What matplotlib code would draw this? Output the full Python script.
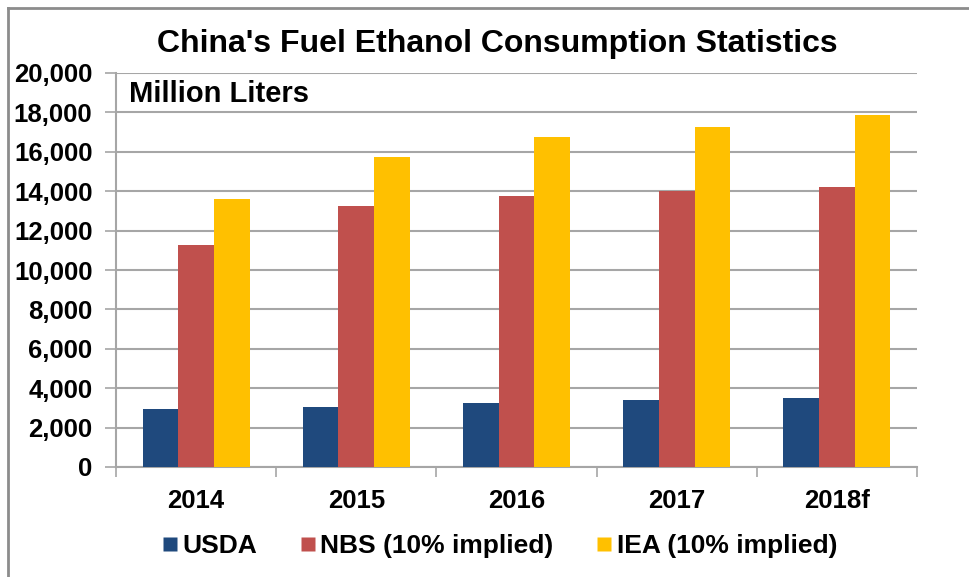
import matplotlib
matplotlib.use("Agg")
import matplotlib.pyplot as plt
from matplotlib.lines import Line2D
from matplotlib.ticker import FuncFormatter, FixedLocator
import numpy as np

categories = ["2014", "2015", "2016", "2017", "2018f"]
usda = [2930, 3060, 3260, 3380, 3520]
nbs = [11250, 13250, 13780, 14000, 14220]
iea = [13580, 15720, 16770, 17280, 17870]
series_names = ["USDA", "NBS (10% implied)", "IEA (10% implied)"]
colors = ["#1F497D", "#C0504D", "#FFC000"]

plt.rcParams['font.family'] = ['Liberation Sans', 'DejaVu Sans']

W, H = 969, 577
fig = plt.figure(figsize=(W / 100, H / 100), dpi=100)
ax = fig.add_axes([116 / W, 1 - 467 / H, (917 - 116) / W, (467 - 73) / H])

x = np.arange(len(categories))
bw = 0.223
for i, (vals, c) in enumerate(zip([usda, nbs, iea], colors)):
    ax.bar(x + (i - 1) * bw, vals, width=bw, color=c, edgecolor='none', zorder=3)

ax.set_xlim(-0.5, len(categories) - 0.5)
ax.set_ylim(0, 20000)
ax.set_yticks(np.arange(0, 20001, 2000))
ax.yaxis.set_major_formatter(FuncFormatter(lambda v, p: f"{int(v):,}"))
ax.grid(axis='y', color='#A6A6A6', linewidth=1.5, zorder=0)
ax.set_axisbelow(True)

ax.xaxis.set_major_locator(FixedLocator(np.arange(-0.5, len(categories), 1.0)))
ax.xaxis.set_minor_locator(FixedLocator(x))
ax.set_xticklabels([])
ax.set_xticklabels(categories, minor=True)
ax.tick_params(axis='x', which='major', length=7, width=1.2, color='#A6A6A6', direction='out')
ax.tick_params(axis='x', which='minor', length=0, pad=16, labelsize=18.5)
ax.tick_params(axis='y', length=8, width=1.2, color='#A6A6A6', direction='out', pad=9, labelsize=18.5)
for lab in ax.get_xticklabels(minor=True) + ax.get_yticklabels():
    lab.set_fontweight('bold')

for s in ['top', 'right']:
    ax.spines[s].set_visible(False)
for s in ['left', 'bottom']:
    ax.spines[s].set_color('#A6A6A6')
    ax.spines[s].set_linewidth(1.5)

fig.text(497 / W, 1 - 44 / H, "China's Fuel Ethanol Consumption Statistics",
         ha='center', va='center', fontsize=23, fontweight='bold')
ax.text(129 / W, 1 - 94 / H, "Million Liters", transform=fig.transFigure,
        ha='left', va='center', fontsize=21, fontweight='bold')

handles = [Line2D([], [], marker='s', linestyle='none', markersize=9.5,
                  markerfacecolor=c, markeredgecolor='none') for c in colors]
leg = fig.legend(handles, series_names, loc='center', bbox_to_anchor=(500 / W, 1 - 546 / H),
                 ncol=3, frameon=False, handlelength=0.55, handletextpad=0.2,
                 columnspacing=1.65, prop={'size': 19, 'weight': 'bold'})

# figure border (top and left)
fig.add_artist(Line2D([8 / W, 1], [1 - 8 / H, 1 - 8 / H], color='#8C8C8C', linewidth=2,
                      transform=fig.transFigure))
fig.add_artist(Line2D([8 / W, 8 / W], [0, 1 - 8 / H], color='#8C8C8C', linewidth=2,
                      transform=fig.transFigure))

fig.savefig("out.png", dpi=100)
